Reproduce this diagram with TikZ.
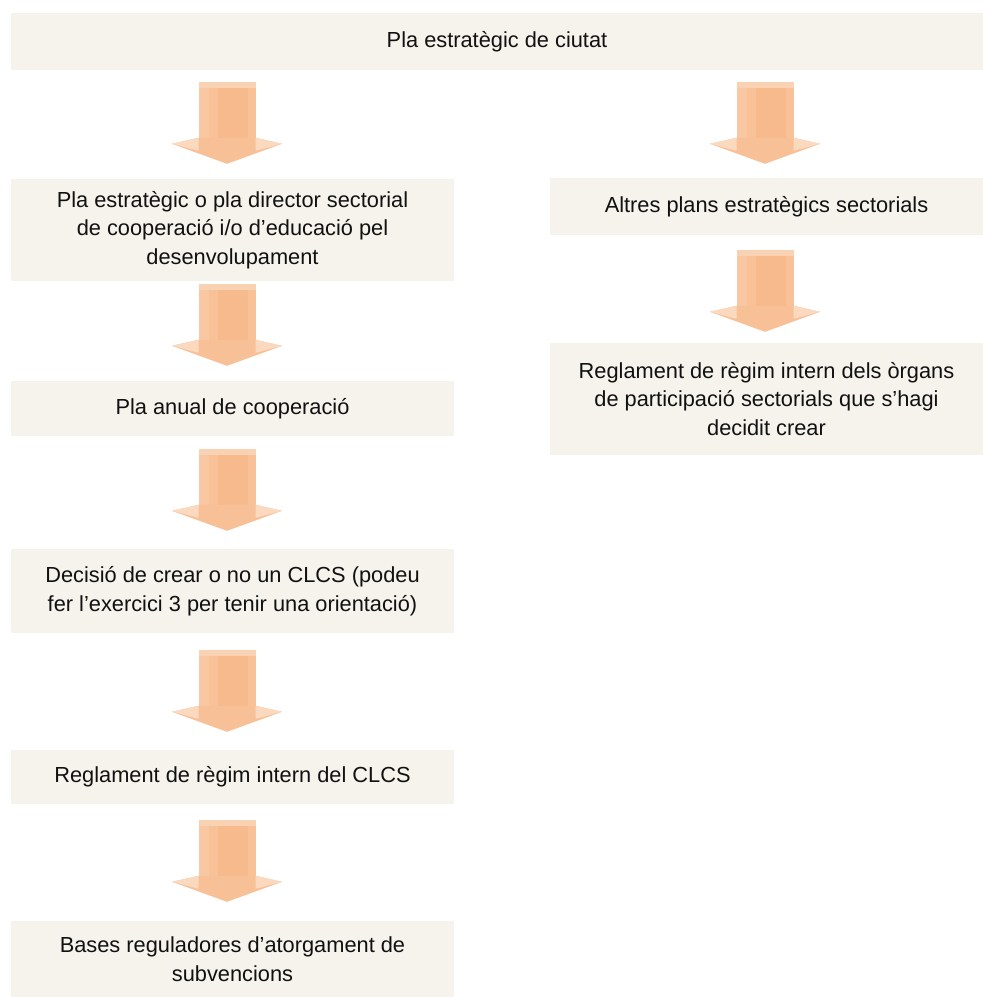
\documentclass[tikz,border=0pt]{standalone}
\usepackage{fontspec}
\setmainfont{Liberation Sans}
\definecolor{boxfill}{HTML}{F6F3EC}
\definecolor{txtcol}{HTML}{111111}
\definecolor{shaftmid}{HTML}{F7BA8C}
\definecolor{shaftside}{HTML}{F9C8A3}
\definecolor{headmid}{HTML}{F8C096}
\definecolor{headside}{HTML}{FBD9BF}
\definecolor{topstrip}{HTML}{F9D2B3}
\tikzset{
  x=1pt, y=-1pt,
  flowbox/.style={fill=boxfill, draw=none, inner sep=0pt, align=center,
    font=\fontsize{21.8}{28.5}\selectfont, text=txtcol},
  leftbox/.style={flowbox, minimum width=443pt},
  rightbox/.style={flowbox, minimum width=433pt},
  fatarrow/.pic={
    \fill[shaftmid] (-28.5,0) rectangle (28.5,58);
    \fill[shaftside] (-28.5,0) rectangle (-18,58);
    \fill[shaftside!50!shaftmid] (-18,0) rectangle (-9,58);
    \fill[shaftside!50!shaftmid] (21,0) rectangle (28.5,58);
    \fill[topstrip] (-28.5,0) rectangle (28.5,6);
    \fill[headmid] (-55,62) -- (-28.5,56) -- (28.5,56) -- (55,62) -- (0,82) -- cycle;
    \fill[headside] (-55,62) -- (-28.5,56) -- (-28.5,69) -- cycle;
    \fill[headside] (55,62) -- (28.5,56) -- (28.5,69) -- cycle;
  }
}
\begin{document}
\begin{tikzpicture}
\useasboundingbox (0,0) rectangle (983,997);
\fill[white] (0,0) rectangle (983,997);

\node[flowbox, minimum width=972pt, minimum height=57pt] (top) at (497,41.5) {Pla estratègic de ciutat};

\node[leftbox, minimum height=102pt] (b2) at (232.5,230)
  {Pla estratègic o pla director sectorial\\de cooperació i/o d’educació pel\\desenvolupament};
\node[leftbox, minimum height=55pt] (b3) at (232.5,408.5) {Pla anual de cooperació};
\node[leftbox, minimum height=84pt] (b4) at (232.5,591)
  {Decisió de crear o no un CLCS (podeu\\fer l’exercici 3 per tenir una orientació)};
\node[leftbox, minimum height=54pt] (b5) at (232.5,777) {Reglament de règim intern del CLCS};
\node[leftbox, minimum height=76pt] (b6) at (232.5,959)
  {Bases reguladores d’atorgament de\\subvencions};

\node[rightbox, minimum height=57pt] (r1) at (766.5,206.5) {Altres plans estratègics sectorials};
\node[rightbox, minimum height=112pt] (r2) at (766.5,399)
  {Reglament de règim intern dels òrgans\\de participació sectorials que s’hagi\\decidit crear};

% arrows
\path (b2.north) ++(-5.5,-97) pic {fatarrow};
\path (b3.north) ++(-5.5,-97) pic {fatarrow};
\path (b4.north) ++(-5.5,-100) pic {fatarrow};
\path (b5.north) ++(-5.5,-100) pic {fatarrow};
\path (b6.north) ++(-5.5,-101) pic {fatarrow};
\path (r1.north) ++(-1.5,-96) pic {fatarrow};
\path (r2.north) ++(-1.5,-93) pic {fatarrow};
\end{tikzpicture}
\end{document}
